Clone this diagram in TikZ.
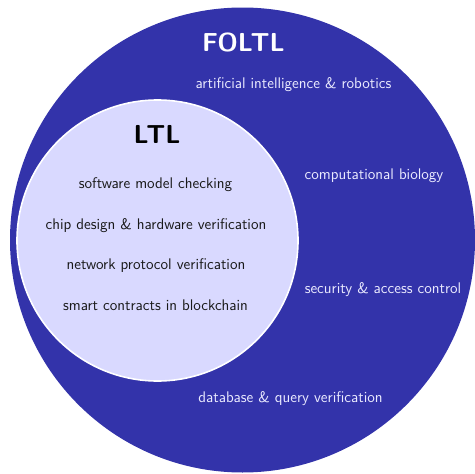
\documentclass[tikz,border=0pt]{standalone}
\usepackage{fontspec}
\begin{document}
\sffamily
\definecolor{outerblue}{RGB}{51,51,170}
\definecolor{innerblue}{RGB}{217,217,255}
\definecolor{outertext}{RGB}{235,235,255}
\definecolor{innertext}{RGB}{25,25,25}
\begin{tikzpicture}[x=1pt,y=-1pt,
  outertxt/.style={text=outertext,font=\fontsize{15.4}{18}\selectfont\sffamily},
  innertxt/.style={text=innertext,font=\fontsize{15.4}{18}\selectfont\sffamily},
  titletxt/.style={font=\fontsize{26}{31}\selectfont\sffamily\bfseries}]
\useasboundingbox (0,0) rectangle (475,474);
\fill[outerblue] (242.5,240) circle[radius=232.5];
\filldraw[fill=innerblue,draw=white,line width=1.6pt] (157.5,240.5) circle[radius=140.5];
\node[titletxt,text=white] (foltl) at (243.5,42) {FOLTL};
\node[titletxt,text=black] (ltl) at (157,134) {LTL};
\node[outertxt] (ai) at (293.5,84.5) {artificial intelligence \& robotics};
\node[outertxt] (bio) at (374,175.5) {computational biology};
\node[outertxt] (sec) at (383,289.5) {security \& access control};
\node[outertxt] (db) at (290.5,398.5) {database \& query verification};
\node[innertxt] (sw) at (155.5,184.5) {software model checking};
\node[innertxt] (chip) at (156,225.5) {chip design \& hardware verification};
\node[innertxt] (net) at (156,265.5) {network protocol verification};
\node[innertxt] (smart) at (155.5,305.5) {smart contracts in blockchain};
\end{tikzpicture}
\end{document}
